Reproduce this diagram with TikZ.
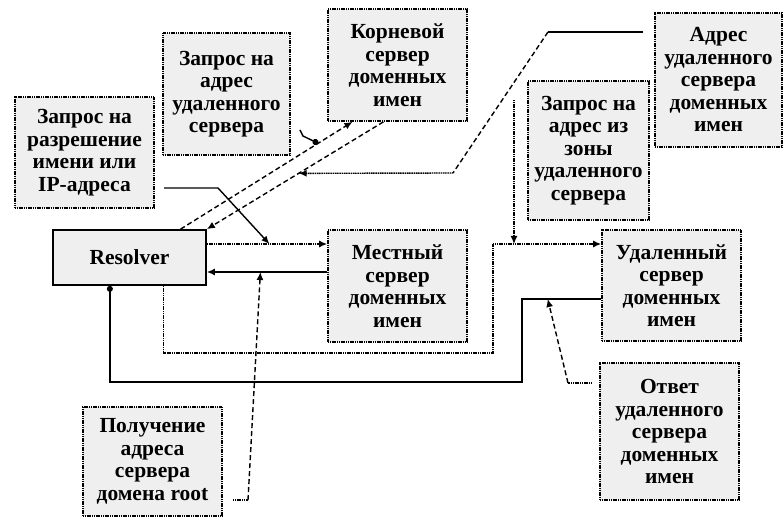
\documentclass[tikz,border=0pt]{standalone}
\usepackage{fontspec}
\setmainfont{Liberation Serif}
\usetikzlibrary{arrows.meta,calc}
\definecolor{boxfill}{RGB}{239,239,239}
\begin{document}
\begin{tikzpicture}[x=1bp,y=-1bp,
  finedots/.style={dash pattern=on 1.2bp off 0.6bp},
  shortdash/.style={dash pattern=on 5bp off 3bp},
  box/.style={draw, finedots, line width=1.7bp, fill=boxfill, inner sep=0pt,
    align=center, font=\bfseries\fontsize{21.5bp}{22.5bp}\selectfont},
  link/.style={line width=1.4bp},
  tip/.style={-{Latex[length=8bp,width=7bp]}},
  dottip/.style={-{Circle[length=6bp]}},
]
\useasboundingbox (0,0) rectangle (784,520);

% --- boxes ---
\node[box, minimum width=139bp, minimum height=111bp] (q1) at (84.5,152.5)
  {Запрос на\\разрешение\\имени или\\IP-адреса};
\node[box, minimum width=127bp, minimum height=122bp] (q2) at (226.5,94)
  {Запрос на\\адрес\\удаленного\\сервера};
\node[box, minimum width=139bp, minimum height=112bp] (root) at (397.5,65)
  {Корневой\\сервер\\доменных\\имен};
\node[box, minimum width=127bp, minimum height=134bp] (ar) at (718.5,80)
  {Адрес\\удаленного\\сервера\\доменных\\имен};
\node[box, minimum width=121bp, minimum height=139bp] (qz) at (588.5,150.5)
  {Запрос на\\адрес из\\зоны\\удаленного\\сервера};
\node[box, solid, minimum width=153bp, minimum height=55bp] (res) at (129.5,257.5)
  {Resolver};
\node[box, minimum width=139bp, minimum height=112bp] (loc) at (397.5,286)
  {Местный\\сервер\\доменных\\имен};
\node[box, minimum width=139bp, minimum height=111bp] (rem) at (671.5,285.5)
  {Удаленный\\сервер\\доменных\\имен};
\node[box, minimum width=139bp, minimum height=137bp] (ans) at (669.5,431.5)
  {Ответ\\удаленного\\сервера\\доменных\\имен};
\node[box, minimum width=139bp, minimum height=109bp] (ra) at (152.5,461.5)
  {Получение\\адреса\\сервера\\домена root};

% --- levels and bend points ---
\coordinate (hA) at (0,244);
\coordinate (hB) at (0,272);
\coordinate (hC) at (0,299);
\coordinate (r1) at ($(res.north west)!0.83!(res.north east)$);
\coordinate (t1) at ($(root.south west)!0.18!(root.south east)$);
\coordinate (t2) at ($(root.south west)!0.40!(root.south east)$);
\coordinate (b1) at ($(res.south west)!0.72!(res.south east)$);
\coordinate (b2) at ($(res.south west)!0.373!(res.south east)$);
\coordinate (v1) at (493,353);
\coordinate (w1) at (522,382);

% --- resolver <-> local server ---
\draw[link, finedots, tip] (res.east |- hA) -- (loc.west |- hA);
\draw[link, tip] (loc.west |- hB) -- (res.east |- hB);

% --- resolver <-> root server ---
\draw[link, shortdash, tip] (r1) -- (t1);
\draw[link, shortdash, tip] (t2) -- (res.north east);

% --- resolver <-> remote server ---
\draw[link, finedots, tip] (b1) |- (v1) |- (rem.west |- hA);
\draw[link, dottip] (rem.west |- hC) -| (w1) -| (b2);

% --- callout: remote server address ---
\coordinate (a0) at (643,32);
\coordinate (a1) at (548,32);
\coordinate (a2) at (453,173);
\coordinate (a3) at ($(t2)!0.48!(res.north east)$);
\draw[link] (a0) -- (a1);
\draw[link, shortdash] (a1) -- (a2);
\draw[link, finedots, tip] (a2) -- (a3);

% --- callout: request for remote server address ---
\coordinate (q2a) at (300,130);
\coordinate (q2b) at ($(r1)!0.8!(t1)$);
\draw[link, dottip] (q2a) -- ++(3,6) -- (q2b);

% --- callout: name resolution request ---
\coordinate (p0) at (164,188);
\coordinate (p1) at (218,188);
\coordinate (p2) at ($(res.east |- hA)!0.52!(loc.west |- hA)$);
\draw[link, tip] (p0) -- (p1) -- (p2);

% --- callout: root domain server address ---
\coordinate (ra0) at (233,500);
\coordinate (ra1) at (248,500);
\coordinate (ra2) at ($(loc.west |- hB)!0.555!(res.east |- hB)$);
\draw[link, finedots] (ra0) -- (ra1);
\draw[link, shortdash, tip] (ra1) -- (ra2);

% --- callout: request to remote zone ---
\coordinate (z0) at (514,100);
\draw[link, finedots, tip] (z0) -- (z0 |- hA);

% --- callout: remote server answer ---
\coordinate (n0) at (592,383);
\coordinate (n1) at (568,383);
\coordinate (n2) at ($(rem.west |- hC)!0.675!(w1 |- hC)$);
\draw[link, finedots] (n0) -- (n1);
\draw[link, shortdash, tip] (n1) -- (n2);
\end{tikzpicture}
\end{document}
